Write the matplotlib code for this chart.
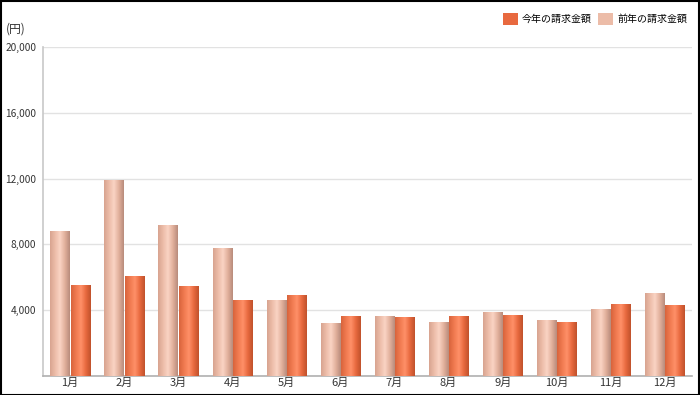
import numpy as np
import matplotlib
matplotlib.use("Agg")
import matplotlib.pyplot as plt
from matplotlib.colors import LinearSegmentedColormap
from matplotlib.patches import Rectangle

plt.rcParams['font.family'] = ['Noto Sans CJK JP', 'DejaVu Sans']

months = ['1月', '2月', '3月', '4月', '5月', '6月', '7月', '8月', '9月', '10月', '11月', '12月']
last_year = [8800, 11880, 9150, 7760, 4620, 3210, 3640, 3270, 3880, 3370, 4060, 4990]
this_year = [5510, 6060, 5440, 4610, 4890, 3620, 3560, 3620, 3680, 3270, 4320, 4300]
series_names = ['今年の請求金額', '前年の請求金額']
yticks = [0, 4000, 8000, 12000, 16000, 20000]

cmap_dark = LinearSegmentedColormap.from_list('dark', ['#d8643c', '#f07a50', '#ff9068', '#e8693f', '#c0522c'])
cmap_light = LinearSegmentedColormap.from_list('light', ['#d8a490', '#ecbca8', '#fad4c4', '#e2b09c', '#b88c7c'])

fig = plt.figure(figsize=(7, 3.95), dpi=100)
ax = fig.add_axes([43/700, 19/395, 649/700, 329/395])

grad = np.linspace(0, 1, 64).reshape(1, -1)
bw = 0.355
gap = 0.02
x = np.arange(len(months))
for i in range(len(months)):
    for val, cm, x0 in [(last_year[i], cmap_light, x[i] - bw - gap/2), (this_year[i], cmap_dark, x[i] + gap/2)]:
        ax.imshow(grad, cmap=cm, aspect='auto', extent=[x0, x0 + bw, 0, val],
                  interpolation='bilinear', zorder=3)
ax.set_xlim(-0.5, len(months) - 0.5)
ax.set_ylim(0, 20000)
ax.set_yticks(yticks)
ax.set_yticklabels(['' if v == 0 else f'{v:,}' for v in yticks], fontsize=7.3, color='#333333')
ax.set_xticks(x)
ax.set_xticklabels(months, fontsize=8, color='#333333')
ax.tick_params(axis='y', length=0, pad=5)
ax.tick_params(axis='x', length=0, pad=1.5)
ax.grid(axis='y', color='#e2e2e2', linewidth=1, zorder=0)
for s in ['top', 'right']:
    ax.spines[s].set_visible(False)
ax.spines['left'].set_color('#c8c8c8')
ax.spines['bottom'].set_color('#b0b0b0')
ax.spines['left'].set_linewidth(1.2)
ax.spines['bottom'].set_linewidth(1.2)

fig.text(6/700, 1 - 29/395, '(円)', fontsize=8.5, va='center', ha='left', color='#333333')

# legend
handles = [Rectangle((0, 0), 1, 1, facecolor='#e8693f', edgecolor='none'),
           Rectangle((0, 0), 1, 1, facecolor='#ecbca8', edgecolor='none')]
fig.legend(handles, series_names, loc='upper right', bbox_to_anchor=(1 - 6/700, 1 - 6/395),
           ncol=2, frameon=False, fontsize=7.2, handlelength=1.45, handleheight=1.45,
           handletextpad=0.45, columnspacing=0.6, borderpad=0.2)

# outer frame
fig.patches.append(Rectangle((0.5/700, 0.5/395), 1 - 1.5/700, 1 - 1.5/395, transform=fig.transFigure,
                             fill=False, edgecolor='black', linewidth=1.5))

fig.savefig('out.png', dpi=100)
